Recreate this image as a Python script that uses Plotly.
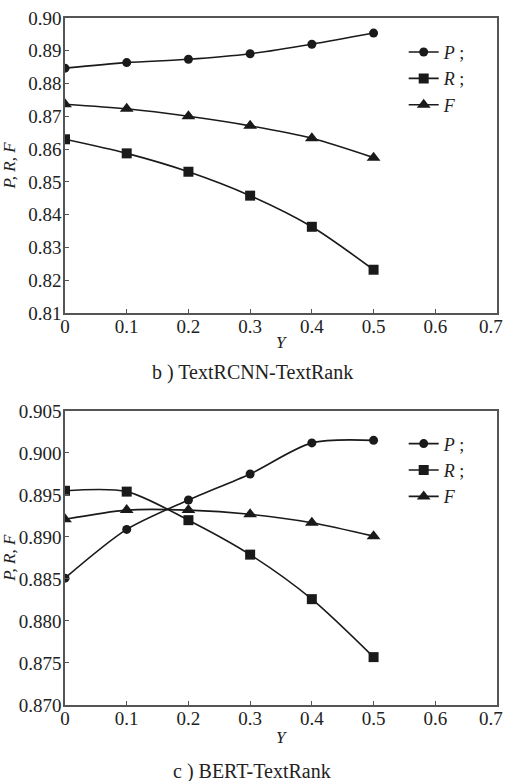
import plotly.graph_objects as go

# ---- data ----
x_vals = [0, 0.1, 0.2, 0.3, 0.4, 0.5]

b_P = [0.8847, 0.8864, 0.8874, 0.8891, 0.8920, 0.8954]
b_R = [0.8630, 0.8587, 0.8531, 0.8458, 0.8363, 0.8232]
b_F = [0.8737, 0.8723, 0.8700, 0.8671, 0.8633, 0.8574]

c_P = [0.8851, 0.8909, 0.8944, 0.8975, 0.9012, 0.9015]
c_R = [0.8955, 0.8954, 0.8920, 0.8879, 0.8826, 0.8757]
c_F = [0.8921, 0.8932, 0.8932, 0.8927, 0.8917, 0.8901]

x_ticks = [0, 0.1, 0.2, 0.3, 0.4, 0.5, 0.6, 0.7]
x_ticktext = ["0", "0.1", "0.2", "0.3", "0.4", "0.5", "0.6", "0.7"]
b_yticks = [0.81, 0.82, 0.83, 0.84, 0.85, 0.86, 0.87, 0.88, 0.89, 0.90]
c_yticks = [0.870, 0.875, 0.880, 0.885, 0.890, 0.895, 0.900, 0.905]

series_names = ["<i>P</i> ;", "<i>R</i> ;", "<i>F</i>"]
symbols = ["circle", "square", "triangle-up"]
sizes = [9, 10, 12]

SERIF = "Liberation Serif"
INK = "#1a1a1a"
FRAME = "#555555"
TICK_SIZE = 19

fig = go.Figure()

for i, (ys, name) in enumerate(zip([b_P, b_R, b_F], series_names)):
    fig.add_trace(go.Scatter(
        x=x_vals, y=ys, name=name, mode="lines+markers",
        line=dict(color=INK, width=1.6, shape="spline", smoothing=0.8),
        marker=dict(symbol=symbols[i], size=sizes[i], color=INK),
        xaxis="x", yaxis="y", legend="legend"))

for i, (ys, name) in enumerate(zip([c_P, c_R, c_F], series_names)):
    fig.add_trace(go.Scatter(
        x=x_vals, y=ys, name=name, mode="lines+markers",
        line=dict(color=INK, width=1.6, shape="spline", smoothing=0.8),
        marker=dict(symbol=symbols[i], size=sizes[i], color=INK),
        xaxis="x2", yaxis="y2", legend="legend2"))

axis_common = dict(showgrid=False, zeroline=False, showline=True, mirror=True,
                   linecolor=FRAME, linewidth=1.5, ticks="inside", ticklen=4,
                   tickcolor=FRAME, tickwidth=1, automargin=False,
                   tickfont=dict(family=SERIF, size=TICK_SIZE, color="#222"))

# last x tick label is drawn as an annotation nudged inward so it stays on the page
x_ticktext_axis = x_ticktext[:-1] + [""]

fig.update_layout(
    width=505, height=781,
    margin=dict(l=65, r=8, t=18, b=76),
    paper_bgcolor="white", plot_bgcolor="white",
    font=dict(family=SERIF),
    showlegend=True,
    xaxis=dict(domain=[0, 1], range=[0, 0.70001], anchor="y", ticklabelstandoff=-5,
               tickvals=x_ticks, ticktext=x_ticktext_axis, **axis_common),
    yaxis=dict(domain=[0.5706, 1], range=[0.81, 0.90], anchor="x", ticklabelstandoff=-2,
               tickvals=b_yticks, tickformat=".2f", **axis_common),
    xaxis2=dict(domain=[0, 1], range=[0, 0.70001], anchor="y2", ticklabelstandoff=-5,
                tickvals=x_ticks, ticktext=x_ticktext_axis, **axis_common),
    yaxis2=dict(domain=[0, 0.428], range=[0.870, 0.905], anchor="x2", ticklabelstandoff=-2,
                tickvals=c_yticks, tickformat=".3f", **axis_common),
    legend=dict(x=0.784, y=0.977, xanchor="left", yanchor="top",
                bgcolor="rgba(0,0,0,0)", tracegroupgap=0, itemwidth=30,
                font=dict(family=SERIF, size=18, color="#222")),
    legend2=dict(x=0.784, y=0.407, xanchor="left", yanchor="top",
                 bgcolor="rgba(0,0,0,0)", tracegroupgap=0, itemwidth=30,
                 font=dict(family=SERIF, size=18, color="#222")),
)

tick_font = dict(family=SERIF, size=TICK_SIZE, color="#222")
fig.add_annotation(text=x_ticktext[-1], xref="x", yref="paper", x=x_ticks[-1],
                   y=0.5706 - 14 / 687, xshift=-6, xanchor="center", yanchor="middle",
                   showarrow=False, font=tick_font)
fig.add_annotation(text=x_ticktext[-1], xref="x2", yref="paper", x=x_ticks[-1],
                   y=-14 / 687, xshift=-6, xanchor="center", yanchor="middle",
                   showarrow=False, font=tick_font)

ann_font = dict(family=SERIF, size=17, color="#222")
cap_font = dict(family=SERIF, size=20, color="#222")

fig.add_annotation(text="<i>P, R, F</i>", textangle=-90, xref="paper", yref="paper",
                   x=-0.128, y=0.785, xanchor="center", yanchor="middle",
                   showarrow=False, font=ann_font)
fig.add_annotation(text="<i>P, R, F</i>", textangle=-90, xref="paper", yref="paper",
                   x=-0.128, y=0.214, xanchor="center", yanchor="middle",
                   showarrow=False, font=ann_font)
fig.add_annotation(text="<i>Y</i>", xref="paper", yref="paper",
                   x=0.5, y=0.5706 - 30 / 687, xanchor="center", yanchor="middle",
                   showarrow=False, font=ann_font)
fig.add_annotation(text="<i>Y</i>", xref="paper", yref="paper",
                   x=0.5, y=-32 / 687, xanchor="center", yanchor="middle",
                   showarrow=False, font=ann_font)
fig.add_annotation(text="b ) TextRCNN-TextRank", xref="paper", yref="paper",
                   x=(252 - 65) / 432, y=0.5706 - 60 / 687, xanchor="center", yanchor="middle",
                   showarrow=False, font=cap_font)
fig.add_annotation(text="c ) BERT-TextRank", xref="paper", yref="paper",
                   x=(252 - 65) / 432, y=-66 / 687, xanchor="center", yanchor="middle",
                   showarrow=False, font=cap_font)

fig.write_html("out.html")
